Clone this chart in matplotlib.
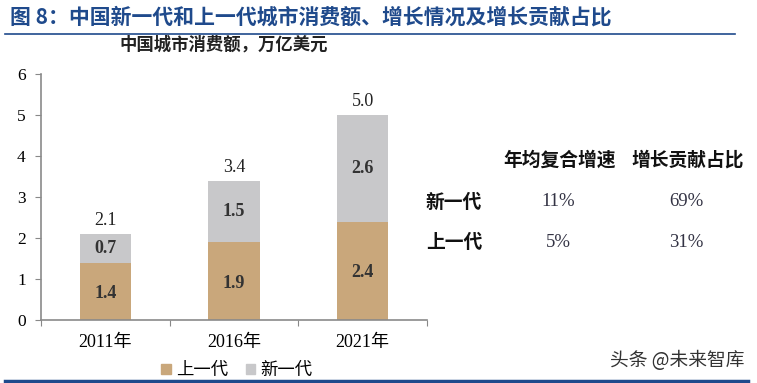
import matplotlib
matplotlib.use("Agg")
import matplotlib.pyplot as plt
from matplotlib.patches import Rectangle
from matplotlib.lines import Line2D

years = ["2011年", "2016年", "2021年"]
old_gen = [1.4, 1.9, 2.4]
new_gen = [0.7, 1.5, 2.6]
totals = [2.1, 3.4, 5.0]
series_names = ["上一代", "新一代"]
table_cols = ["年均复合增速", "增长贡献占比"]
table_rows = ["新一代", "上一代"]
table_vals = [["11%", "69%"], ["5%", "31%"]]

C_OLD = "#C9A77B"
C_NEW = "#C8C8CA"
BLUE = "#1F4A8C"
FAM = ["Liberation Serif", "Noto Sans CJK SC"]
CJK = ["Noto Sans CJK SC", "DejaVu Sans"]

plt.rcParams["font.family"] = FAM

fig = plt.figure(figsize=(7.57, 3.83), dpi=100)
W, H = 757, 383

def fx(px):
    return px / W

def fy(py):
    return 1 - py / H

# Title and rules
fig.text(fx(10), fy(17), "图 8：中国新一代和上一代城市消费额、增长情况及增长贡献占比",
         family=CJK, fontsize=15, fontweight="bold", color=BLUE, va="center", ha="left")
fig.add_artist(Line2D([fx(5), fx(735)], [fy(34), fy(34)], color=BLUE, lw=1.2))
fig.add_artist(Line2D([fx(5), fx(748)], [fy(381), fy(381)], color=BLUE, lw=2.5))
fig.text(fx(119), fy(45), "中国城市消费额，万亿美元", family=CJK, fontsize=12.5,
         fontweight="bold", color="#222222", va="center", ha="left")

# Axes
ax = fig.add_axes([fx(41), fy(320), fx(386), (320 - 74) / H])
x = list(range(len(years)))
bw = 0.4
ax.bar(x, old_gen, width=bw, color=C_OLD, label=series_names[0])
ax.bar(x, new_gen, width=bw, bottom=old_gen, color=C_NEW, label=series_names[1])

for i in x:
    ax.text(i, old_gen[i] / 2 - 0.05, f"{old_gen[i]:.1f}", ha="center", va="center",
            fontsize=13, fontweight="bold", color="#333333")
    ax.text(i, old_gen[i] + new_gen[i] / 2, f"{new_gen[i]:.1f}", ha="center", va="center",
            fontsize=13, fontweight="bold", color="#333333")
    ax.text(i, totals[i] + 0.12, f"{totals[i]:.1f}", ha="center", va="bottom",
            fontsize=13, color="#222222")

ax.set_xlim(-0.5, 2.5)
ax.set_ylim(0, 6)
ax.set_yticks(range(0, 7))
ax.tick_params(axis="y", labelsize=12.5, length=4, color="#888888", pad=7)
ax.set_xticks([-0.5, 0.5, 1.5, 2.5])
ax.set_xticklabels([])
ax.tick_params(axis="x", which="major", length=4, color="#888888")
ax.set_xticks(x, minor=True)
ax.set_xticklabels(years, minor=True, fontsize=13)
ax.tick_params(axis="x", which="minor", length=0, pad=10)
for s in ["top", "right"]:
    ax.spines[s].set_visible(False)
for s in ["left", "bottom"]:
    ax.spines[s].set_color("#8A8A8A")
    ax.spines[s].set_linewidth(1.2)

# Legend
handles = [Rectangle((0, 0), 1, 1, color=C_OLD), Rectangle((0, 0), 1, 1, color=C_NEW)]
fig.legend(handles, series_names, loc="center", bbox_to_anchor=(fx(237), fy(370)),
           ncol=2, frameon=False, prop={"family": CJK, "size": 12.5},
           handlelength=0.55, handleheight=0.55, handletextpad=0.3, columnspacing=1.0)

# Table on the right
col_x = [560, 688]
row_y = [202, 243]
for cx, name in zip(col_x, table_cols):
    fig.text(fx(cx), fy(160), name, family=CJK, fontsize=13.5, fontweight="bold",
             color="#111111", ha="center", va="center")
for ry, name, vals in zip(row_y, table_rows, table_vals):
    fig.text(fx(454), fy(ry), name, family=CJK, fontsize=13.5, fontweight="bold",
             color="#111111", ha="center", va="center")
    for cx, v in zip(col_x, vals):
        fig.text(fx(cx - 2), fy(ry), v, fontsize=13.5, color="#333344",
                 ha="center", va="center")

# Watermark
fig.text(fx(745), fy(361), "头条 @未来智库", family=CJK, fontsize=13.5,
         color="#333333", ha="right", va="center")

fig.savefig("out.png", dpi=100)
